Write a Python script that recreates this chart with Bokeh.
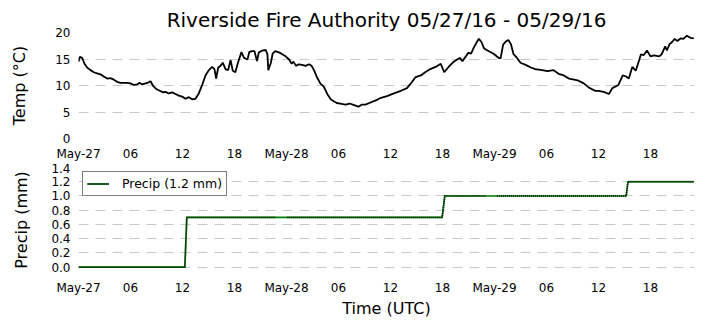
from bokeh.plotting import figure
from bokeh.layouts import column
from bokeh.models import Range1d, FixedTicker, Legend, LegendItem
from bokeh.embed import file_html
from bokeh.resources import INLINE

# ---------------- data ----------------
title_text = "Riverside Fire Authority 05/27/16 - 05/29/16"

# hours since 2016-05-27 00:00 UTC
temp_hours = [0.0, 0.15, 0.42, 0.69, 1.0, 1.38, 1.77, 2.15, 2.54, 2.92, 3.31, 3.69, 4.08, 4.46,
              4.85, 5.23, 5.62, 6.0, 6.38, 6.77, 7.04, 7.35, 7.73, 8.0, 8.31, 8.62, 9.0, 9.38,
              9.77, 10.04, 10.42, 10.81, 11.19, 11.58, 11.96, 12.35, 12.73, 13.12, 13.5, 13.88,
              14.27, 14.65, 15.04, 15.42, 15.69, 15.88, 16.12, 16.38, 16.65, 16.96, 17.27, 17.54,
              17.8, 18.1, 18.4, 18.8, 19.1, 19.5, 19.7, 20.0, 20.3, 20.6, 20.8, 21.2, 21.6, 21.8,
              21.9, 22.2, 22.4, 22.7, 23.2, 23.5, 23.9, 24.3, 24.6, 24.8, 25.1, 25.4, 25.8, 26.2,
              26.6, 26.9, 27.2, 27.5, 27.9, 28.3, 28.7, 29.1, 29.5, 29.8, 30.2, 30.8, 31.3, 31.8,
              32.3, 32.7, 33.1, 33.7, 34.3, 34.8, 35.6, 36.4, 37.2, 37.9, 38.5, 38.9, 39.5, 40.0,
              40.6, 41.2, 41.8, 42.2, 42.7, 43.3, 43.7, 44.0, 44.3, 44.7, 45.0, 45.3, 45.6, 46.0,
              46.2, 46.5, 46.8, 47.3, 47.9, 48.5, 48.7, 49.0, 49.3, 49.6, 49.9, 50.2, 50.6, 51.0,
              51.6, 52.2, 52.7, 53.5, 54.1, 54.8, 55.4, 56.0, 56.6, 57.2, 57.7, 58.3, 58.9, 59.6,
              60.0, 60.6, 61.2, 61.6, 62.3, 62.8, 63.2, 63.5, 63.9, 64.3, 64.7, 64.9, 65.2, 65.6,
              66.0, 66.4, 67.0, 67.3, 67.7, 67.9, 68.2, 68.5, 68.8, 69.1, 69.5, 69.8, 70.2, 70.6,
              71.0]
temp_c = [14.5, 15.4, 15.2, 14.1, 13.4, 12.9, 12.5, 12.3, 12.1, 11.7, 11.3, 11.4, 11.1, 10.7,
          10.5, 10.5, 10.5, 10.4, 10.1, 10.2, 10.5, 10.2, 10.4, 10.5, 10.8, 9.9, 9.3, 9.0,
          8.7, 8.8, 8.5, 8.7, 8.4, 8.1, 7.9, 7.5, 7.8, 7.4, 7.5, 8.5,
          10.1, 11.9, 12.9, 13.5, 13.1, 11.3, 13.4, 13.7, 14.3, 13.1, 12.9, 14.8,
          12.8, 12.5, 14.3, 16.3, 15.2, 14.9, 16.3, 16.5, 16.5, 14.6, 16.2, 16.6, 16.7, 15.9,
          12.9, 14.3, 16.0, 16.5, 16.2, 15.9, 15.5, 14.9, 14.1, 14.5, 13.7, 14.0, 13.9, 13.7,
          14.0, 13.7, 12.8, 11.6, 10.4, 9.8, 8.4, 7.4, 7.0, 6.7, 6.6, 6.4, 6.6, 6.3,
          6.0, 6.4, 6.4, 6.8, 7.2, 7.6, 8.0, 8.5, 9.0, 9.5, 10.7, 11.6, 11.9, 12.5,
          13.1, 13.5, 14.1, 12.5, 13.5, 14.5, 14.9, 15.2, 14.6, 15.5, 16.2, 16.0, 17.1, 18.3,
          18.8, 18.2, 17.0, 16.5, 16.0, 15.2, 15.1, 17.7, 18.3, 18.6, 17.8, 15.9, 15.2, 14.3,
          13.9, 13.4, 13.1, 12.9, 12.7, 12.9, 12.2, 11.9, 11.3, 11.1, 10.9, 10.4, 9.6, 9.0,
          9.0, 8.8, 8.4, 9.5, 10.1, 11.9, 11.7, 11.3, 13.5, 12.8, 14.8, 15.9, 15.7, 16.6,
          15.5, 15.7, 15.5, 15.9, 17.4, 16.6, 17.8, 18.2, 18.8, 18.4, 18.9, 18.8, 19.4, 19.0,
          18.9]

precip_hours = [0.0, 12.27, 12.5, 22.7, 24.1, 41.96, 42.27, 47.0, 48.3, 63.2, 63.4, 71.0]
precip_mm = [0.0, 0.0, 0.7, 0.7, 0.7, 0.7, 1.0, 1.0, 1.0, 1.0, 1.2, 1.2]
# spans without samples (no markers drawn)
gap_hours = [(22.7, 24.1), (47.0, 48.3)]

x_ticks = [0, 6, 12, 18, 24, 30, 36, 42, 48, 54, 60, 66]
x_tick_labels = ["May-27", "06", "12", "18", "May-28", "06", "12", "18",
                 "May-29", "06", "12", "18"]
temp_ticks = [0, 5, 10, 15, 20]
temp_tick_labels = ["0", "5", "10", "15", "20"]
precip_ticks = [0.0, 0.2, 0.4, 0.6, 0.8, 1.0, 1.2, 1.4]
precip_tick_labels = ["0.0", "0.2", "0.4", "0.6", "0.8", "1.0", "1.2", "1.4"]
legend_label = "Precip (1.2 mm)"

FONT = "DejaVu Sans"
GRID = "#c8c8c8"


def style(p, yticks, ylabels, ylabel, xlabel=None, ylabel_standoff=24):
    p.outline_line_color = None
    p.background_fill_color = "white"
    p.border_fill_color = "white"
    p.xgrid.visible = False
    p.ygrid.grid_line_color = GRID
    p.ygrid.grid_line_dash = "10 7"
    p.ygrid.grid_line_width = 1
    for ax in (p.xaxis[0], p.yaxis[0]):
        ax.axis_line_color = None
        ax.major_tick_line_color = None
        ax.minor_tick_line_color = None
        ax.major_tick_out = 0
        ax.major_tick_in = 0
        ax.major_label_text_font = FONT
        ax.major_label_text_font_size = "12px"
        ax.major_label_text_color = "black"
        ax.major_label_standoff = 8
        ax.axis_label_text_font = FONT
        ax.axis_label_text_font_size = "16px"
        ax.axis_label_text_font_style = "normal"
        ax.axis_label_text_color = "black"
    p.xaxis[0].ticker = FixedTicker(ticks=x_ticks)
    p.xaxis[0].major_label_overrides = {t: l for t, l in zip(x_ticks, x_tick_labels)}
    p.yaxis[0].ticker = FixedTicker(ticks=yticks)
    p.yaxis[0].major_label_overrides = {t: l for t, l in zip(yticks, ylabels)}
    p.yaxis[0].axis_label = ylabel
    p.yaxis[0].axis_label_standoff = ylabel_standoff
    if xlabel:
        p.xaxis[0].axis_label = xlabel
        p.xaxis[0].axis_label_standoff = 1


# ---------------- top: temperature ----------------
p1 = figure(width=705, height=163, output_backend="svg", toolbar_location=None,
            x_range=Range1d(0, 71.08), y_range=Range1d(0, 20),
            min_border_left=78, min_border_right=11, min_border_top=32, min_border_bottom=23,
            title=title_text)
p1.title.text_font = FONT
p1.title.text_font_size = "20px"
p1.title.text_font_style = "normal"
p1.title.text_color = "black"
p1.title.align = "center"
p1.title.standoff = 2
style(p1, temp_ticks, temp_tick_labels, "Temp (\u00b0C)", ylabel_standoff=23)
p1.ygrid.ticker = FixedTicker(ticks=[5, 10, 15, 20])
p1.line(temp_hours, temp_c, line_color="black", line_width=1.8)

# ---------------- bottom: precipitation ----------------
p2 = figure(width=705, height=165, output_backend="svg", toolbar_location=None,
            x_range=Range1d(0, 71.08), y_range=Range1d(-0.075, 1.4),
            min_border_left=78, min_border_right=11, min_border_top=4, min_border_bottom=56)
style(p2, precip_ticks, precip_tick_labels, "Precip (mm)", xlabel="Time (UTC)",
      ylabel_standoff=17)

green = p2.line(precip_hours, precip_mm, line_color="#008000", line_width=1.6)

mx, my = [], []
for i, (h, v) in enumerate(zip(precip_hours, precip_mm)):
    if i > 0 and (precip_hours[i - 1], h) in gap_hours:
        mx.append(float("nan"))
        my.append(float("nan"))
    mx.append(h)
    my.append(v)
dots = p2.line(mx, my, line_color="black", line_width=1.8, line_dash="1 1", line_alpha=0.85)

legend = Legend(items=[LegendItem(label=legend_label, renderers=[green, dots])],
                location="top_left")
legend.margin = 4
legend.padding = 4
legend.spacing = 0
legend.glyph_width = 22
legend.glyph_height = 15
legend.label_height = 15
legend.label_standoff = 13
legend.label_text_font = FONT
legend.label_text_font_size = "12.5px"
legend.label_text_color = "black"
legend.border_line_color = "black"
legend.border_line_width = 1
legend.background_fill_color = "white"
legend.background_fill_alpha = 1.0
p2.add_layout(legend)

layout = column(p1, p2, spacing=0)
open("out.html", "w").write(file_html(layout, INLINE))
